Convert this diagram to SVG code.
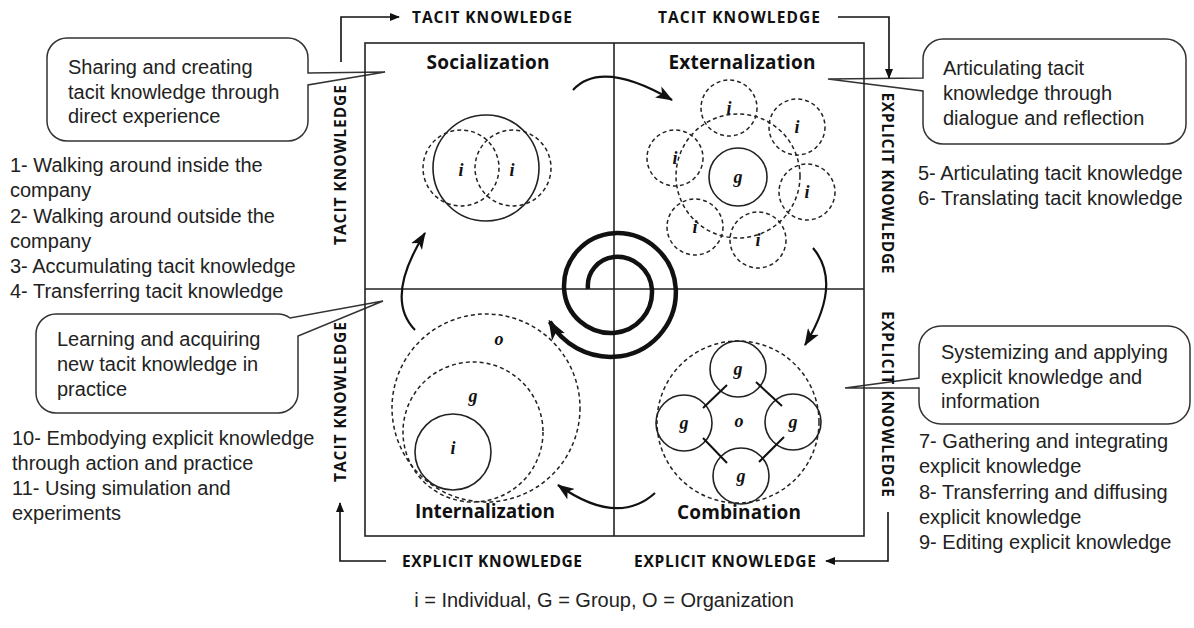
<svg xmlns="http://www.w3.org/2000/svg" width="1194" height="628" viewBox="0 0 1194 628">
<style>
.t{font-family:"Liberation Sans",Arial,sans-serif;font-size:20px;fill:#222}
.q{font-family:"Open Sans",Lato,"DejaVu Sans",sans-serif;font-weight:bold;font-size:19px;fill:#111;text-anchor:middle}
.k{font-family:"Open Sans",Lato,"DejaVu Sans",sans-serif;font-weight:bold;font-size:15.5px;fill:#111}
.kv{font-family:"Open Sans",Lato,"DejaVu Sans",sans-serif;font-weight:bold;font-size:15.5px;fill:#111;text-anchor:middle}
.l{font-family:"Liberation Serif","DejaVu Serif",serif;font-style:italic;font-weight:bold;font-size:18px;fill:#111;text-anchor:middle}
.box{fill:none;stroke:#222;stroke-width:1.6}
.sol{fill:none;stroke:#222;stroke-width:1.6}
.dash{fill:none;stroke:#222;stroke-width:1.5;stroke-dasharray:4 3}
.arc{fill:none;stroke:#111;stroke-width:2.2}
.brk{fill:none;stroke:#111;stroke-width:1.6}
.call{fill:none;stroke:#333;stroke-width:1.5}
</style>
<defs>
<marker id="ah" viewBox="0 0 16 12" refX="15" refY="6" markerWidth="17" markerHeight="13" markerUnits="userSpaceOnUse" orient="auto"><path d="M0,0 L16,6 L0,12 L4,6 Z" fill="#111"/></marker>
<marker id="ahs" viewBox="0 0 16 12" refX="14" refY="6" markerWidth="20" markerHeight="15" markerUnits="userSpaceOnUse" orient="auto"><path d="M0,0 L16,6 L0,12 L4,6 Z" fill="#111"/></marker>
<marker id="ahb" viewBox="0 0 10 8" refX="9" refY="4" markerWidth="10" markerHeight="8" markerUnits="userSpaceOnUse" orient="auto"><path d="M0,0 L10,4 L0,8 Z" fill="#111"/></marker>
</defs>
<rect width="1194" height="628" fill="#fff"/>

<g id="callouts">
<g id="callout-socialization">
<path class="call" d="M67,38 H288 A20 20 0 0 1 308,58 V73 L385,72 L308,85 V121 A20 20 0 0 1 288,141 H67 A20 20 0 0 1 47,121 V58 A20 20 0 0 1 67,38 Z"/>
<text class="t" x="68" y="74">Sharing and creating</text>
<text class="t" x="68" y="99">tacit knowledge through</text>
<text class="t" x="68" y="123">direct experience</text>
</g>
<g id="callout-internalization">
<path class="call" d="M56,314 H278 A20 20 0 0 1 290,318 L383,301 L298,336 V393 A20 20 0 0 1 278,413 H56 A20 20 0 0 1 36,393 V334 A20 20 0 0 1 56,314 Z"/>
<text class="t" x="57" y="346">Learning and acquiring</text>
<text class="t" x="57" y="371">new tacit knowledge in</text>
<text class="t" x="57" y="396">practice</text>
</g>
<g id="callout-externalization">
<path class="call" d="M943,39 H1166 A20 20 0 0 1 1186,59 V124 A20 20 0 0 1 1166,144 H943 A20 20 0 0 1 923,124 V91 L828,79 L923,78 V59 A20 20 0 0 1 943,39 Z"/>
<text class="t" x="943" y="75">Articulating tacit</text>
<text class="t" x="943" y="100">knowledge through</text>
<text class="t" x="943" y="125">dialogue and reflection</text>
</g>
<g id="callout-combination">
<path class="call" d="M941,326 H1168 A22 22 0 0 1 1190,348 V402 A22 22 0 0 1 1168,424 H941 A22 22 0 0 1 919,402 V388 L845,388 L919,378 V348 A22 22 0 0 1 941,326 Z"/>
<text class="t" x="941" y="359">Systemizing and applying</text>
<text class="t" x="941" y="384">explicit knowledge and</text>
<text class="t" x="941" y="408">information</text>
</g>
</g>

<g id="lists">
<g id="list-socialization">
<text class="t" x="10" y="172">1- Walking around inside the</text>
<text class="t" x="10" y="197">company</text>
<text class="t" x="10" y="223">2- Walking around outside the</text>
<text class="t" x="10" y="248">company</text>
<text class="t" x="10" y="273">3- Accumulating tacit knowledge</text>
<text class="t" x="10" y="298">4- Transferring tacit knowledge</text>
</g>
<g id="list-internalization">
<text class="t" x="12" y="445">10- Embodying explicit knowledge</text>
<text class="t" x="12" y="470">through action and practice</text>
<text class="t" x="12" y="495">11- Using simulation and</text>
<text class="t" x="12" y="520">experiments</text>
</g>
<g id="list-externalization">
<text class="t" x="918" y="180">5- Articulating tacit knowledge</text>
<text class="t" x="918" y="205">6- Translating tacit knowledge</text>
</g>
<g id="list-combination">
<text class="t" x="919" y="448">7- Gathering and integrating</text>
<text class="t" x="919" y="473">explicit knowledge</text>
<text class="t" x="919" y="499">8- Transferring and diffusing</text>
<text class="t" x="919" y="524">explicit knowledge</text>
<text class="t" x="919" y="549">9- Editing explicit knowledge</text>
</g>
</g>

<g id="frame">
<rect class="box" x="365" y="43" width="499" height="493"/>
<line class="box" x1="614" y1="43" x2="614" y2="536"/>
<line class="box" x1="365" y1="289" x2="864" y2="289"/>
</g>

<g id="axis-labels">
<text class="k" x="412" y="23" textLength="160">TACIT KNOWLEDGE</text>
<text class="k" x="658" y="23" textLength="162">TACIT KNOWLEDGE</text>
<text class="k" x="402" y="567" textLength="180">EXPLICIT KNOWLEDGE</text>
<text class="k" x="634" y="567" textLength="182">EXPLICIT KNOWLEDGE</text>
<text class="kv" x="346" y="165" transform="rotate(-90 346 165)" textLength="160">TACIT KNOWLEDGE</text>
<text class="kv" x="346" y="402" transform="rotate(-90 346 402)" textLength="160">TACIT KNOWLEDGE</text>
<text class="kv" x="882" y="183" transform="rotate(90 882 183)" textLength="181">EXPLICIT KNOWLEDGE</text>
<text class="kv" x="882" y="404" transform="rotate(90 882 404)" textLength="186">EXPLICIT KNOWLEDGE</text>
</g>

<g id="connectors">
<path class="brk" d="M341,62 V17 H399" marker-end="url(#ahb)"/>
<path class="brk" d="M838,17 H889 V78" marker-end="url(#ahb)"/>
<path class="brk" d="M888,512 V561 H826" marker-end="url(#ahb)"/>
<path class="brk" d="M386,561 H340 V503" marker-end="url(#ahb)"/>
<path class="arc" d="M573,90 Q601.5,59 672,100" marker-end="url(#ah)"/>
<path class="arc" d="M813,248 Q843,283.5 805,345" marker-end="url(#ah)"/>
<path class="arc" d="M655,493 Q617.5,527 558,485" marker-end="url(#ah)"/>
<path class="arc" d="M415,330 Q384,298.5 425,233" marker-end="url(#ah)"/>
<path id="spiral" fill="none" stroke="#111" stroke-width="4.5" d="M588,289 A29 29 0 0 1 614,257 A35 35 0 0 1 651.9,289 A41 41 0 0 1 614,332.9 A47 47 0 0 1 564.1,289 A53 53 0 0 1 614,233.2 A59 59 0 0 1 675.8,289 A65 65 0 0 1 614,356.8 A70 70 0 0 1 549.8,321.7" marker-end="url(#ahs)"/>
</g>

<g id="socialization">
<text class="q" x="488" y="69" textLength="123">Socialization</text>
<circle class="sol" cx="486" cy="168" r="53"/>
<circle class="dash" cx="461" cy="168" r="38"/>
<circle class="dash" cx="513" cy="168" r="38"/>
<text class="l" x="461" y="176">i</text>
<text class="l" x="512" y="176">i</text>
</g>

<g id="externalization">
<text class="q" x="742" y="69" textLength="147">Externalization</text>
<circle class="dash" cx="738" cy="176" r="62"/>
<circle class="sol" cx="738" cy="177" r="29"/>
<text class="l" x="738" y="183">g</text>
<circle class="dash" cx="729" cy="108" r="28"/>
<circle class="dash" cx="797" cy="127" r="28"/>
<circle class="dash" cx="675" cy="158" r="28"/>
<circle class="dash" cx="807" cy="192" r="28"/>
<circle class="dash" cx="695" cy="227" r="28"/>
<circle class="dash" cx="758" cy="240" r="28"/>
<text class="l" x="729" y="114">i</text>
<text class="l" x="797" y="133">i</text>
<text class="l" x="675" y="164">i</text>
<text class="l" x="807" y="198">i</text>
<text class="l" x="695" y="233">i</text>
<text class="l" x="758" y="246">i</text>
</g>

<g id="internalization">
<text class="q" x="485" y="518" textLength="140">Internalization</text>
<circle class="dash" cx="486" cy="408" r="94"/>
<circle class="dash" cx="473" cy="432" r="70"/>
<circle class="sol" cx="453" cy="452" r="38"/>
<text class="l" x="499" y="345">o</text>
<text class="l" x="473" y="402">g</text>
<text class="l" x="453" y="454">i</text>
</g>

<g id="combination">
<text class="q" x="739" y="519" textLength="124">Combination</text>
<circle class="dash" cx="738" cy="422" r="81"/>
<circle class="sol" cx="738" cy="369" r="28"/>
<circle class="sol" cx="684" cy="423" r="28"/>
<circle class="sol" cx="793" cy="422" r="28"/>
<circle class="sol" cx="741" cy="476" r="28"/>
<g stroke="#111" stroke-width="2">
<line x1="727" y1="385" x2="703" y2="408"/>
<line x1="756" y1="382" x2="782" y2="406"/>
<line x1="703" y1="438" x2="727" y2="463"/>
<line x1="784" y1="437" x2="759" y2="462"/>
</g>
<text class="l" x="738" y="375">g</text>
<text class="l" x="684" y="429">g</text>
<text class="l" x="793" y="428">g</text>
<text class="l" x="741" y="482">g</text>
<text class="l" x="739" y="427" font-style="normal">o</text>
</g>

<g id="legend">
<text class="t" x="604" y="607" text-anchor="middle">i = Individual, G = Group, O = Organization</text>
</g>
</svg>
